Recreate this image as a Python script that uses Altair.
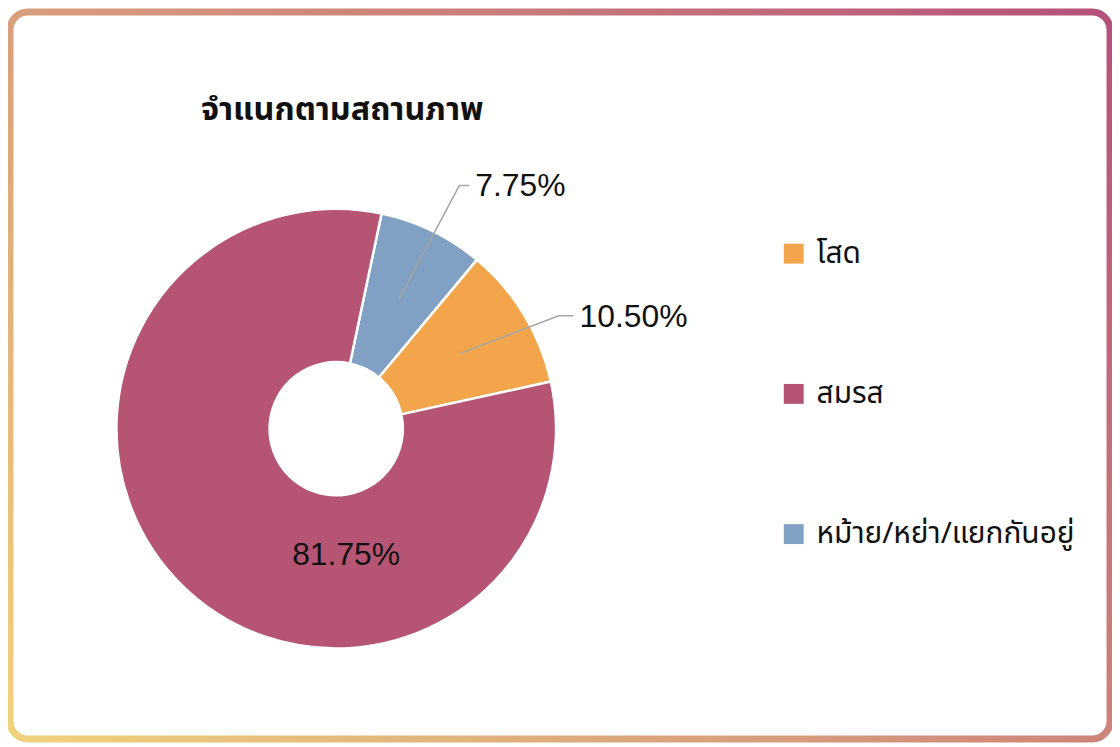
import math
import altair as alt
import pandas as pd

# ---------------- data ----------------
categories = ["โสด", "สมรส", "หม้าย/หย่า/แยกกันอยู่"]
percentages = [10.50, 81.75, 7.75]
colors = ["#F2A54A", "#B55573", "#80A0C4"]
title_text = "จำแนกตามสถานภาพ"

# ---------------- layout ----------------
W, H = 1110, 735
CX, CY = 330, 421
R_OUT, R_IN = 221, 67
START = math.radians(11.9)
FONT = "Liberation Sans, Arial, sans-serif"
THAI_FONT = "Noto Sans Thai, Tahoma, sans-serif"

stack_order = {"หม้าย/หย่า/แยกกันอยู่": 0, "โสด": 1, "สมรส": 2}
label_layout = {
    "หม้าย/หย่า/แยกกันอยู่": dict(kind="out", elbow_da=1.0, elbow_r=1.24, seg=10),
    "โสด": dict(kind="out", elbow_da=4.4, elbow_r=1.135, seg=15),
    "สมรส": dict(kind="in", angle=175.5, r=0.575),
}

df = pd.DataFrame({"category": categories, "value": percentages})
df["order"] = df["category"].map(stack_order)
df["label"] = df["value"].map(lambda v: f"{v:.2f}%")
df = df.sort_values("order").reset_index(drop=True)
cum = df["value"].cumsum() - df["value"]
df["mid"] = START + 2 * math.pi * (cum + df["value"] / 2) / 100


def unit(a, r):
    return r * math.sin(a), r * math.cos(a)


line_rows, out_rows, in_rows = [], [], []
for _, row in df.iterrows():
    lay = label_layout[row["category"]]
    if lay["kind"] == "out":
        sx, sy = unit(row["mid"], 0.66)
        ex, ey = unit(row["mid"] + math.radians(lay["elbow_da"]), lay["elbow_r"])
        fx, fy = ex + lay["seg"] / R_OUT, ey
        for i, (px, py) in enumerate([(sx, sy), (ex, ey), (fx, fy)]):
            line_rows.append({"category": row["category"], "seq": i, "ux": px, "uy": py})
        out_rows.append({"label": row["label"], "ux": fx, "uy": fy})
    else:
        ix, iy = unit(math.radians(lay["angle"]), lay["r"])
        in_rows.append({"label": row["label"], "ux": ix, "uy": iy})

lines_df = pd.DataFrame(line_rows)
out_df = pd.DataFrame(out_rows)
in_df = pd.DataFrame(in_rows)

xscale = alt.Scale(domain=[-1, 1], range=[CX - R_OUT, CX + R_OUT])
yscale = alt.Scale(domain=[-1, 1], range=[CY + R_OUT, CY - R_OUT])

# ---------------- border ----------------
B = 2
bw, bh = W - 2 * B, H - 2 * B
s = (bw + bh) / (bw ** 2 + bh ** 2)
gx1, gy1 = 0.5 - s * bw / 2, 0.5 + s * bh / 2
gx2, gy2 = 0.5 + s * bw / 2, 0.5 - s * bh / 2
border_grad = alt.LinearGradient(
    gradient="linear",
    stops=[alt.GradientStop(color="#F0D27C", offset=0),
           alt.GradientStop(color="#B5507A", offset=1)],
    x1=gx1, y1=gy1, x2=gx2, y2=gy2,
)
border = alt.Chart(pd.DataFrame({"d": [0]})).mark_rect(
    fill="white", stroke=border_grad, strokeWidth=7, cornerRadius=18
).encode(x=alt.value(B), x2=alt.value(W - B), y=alt.value(B), y2=alt.value(H - B))

title = alt.Chart(pd.DataFrame({"t": [title_text]})).mark_text(
    align="left", baseline="middle", fontSize=32.5, fontWeight="bold",
    font=THAI_FONT, color="#111111"
).encode(x=alt.value(194), y=alt.value(101), text="t:N")

pie = alt.Chart(df).mark_arc(
    outerRadius=R_OUT, innerRadius=R_IN, stroke="white", strokeWidth=2.5
).encode(
    theta=alt.Theta("value:Q", stack=True,
                    scale=alt.Scale(range=[START, START + 2 * math.pi])),
    order=alt.Order("order:Q"),
    color=alt.Color(
        "category:N",
        scale=alt.Scale(domain=categories, range=colors),
        legend=alt.Legend(
            orient="none", legendX=775, legendY=230, title=None,
            symbolType="square", symbolSize=400, symbolStrokeWidth=0,
            symbolOpacity=1, labelFontSize=30, labelFont=THAI_FONT,
            labelColor="#111111", rowPadding=111, labelOffset=8, padding=0,
            labelLimit=400,
        ),
    ),
    x=alt.value(CX), y=alt.value(CY),
)

leaders = alt.Chart(lines_df).mark_line(color="#A6A6A6", strokeWidth=1.5).encode(
    x=alt.X("ux:Q", scale=xscale, axis=None),
    y=alt.Y("uy:Q", scale=yscale, axis=None),
    detail="category:N",
    order="seq:Q",
)

out_labels = alt.Chart(out_df).mark_text(
    align="left", baseline="middle", dx=6, dy=1, fontSize=32, font=FONT, color="#111111"
).encode(
    x=alt.X("ux:Q", scale=xscale, axis=None),
    y=alt.Y("uy:Q", scale=yscale, axis=None),
    text="label:N",
)

in_labels = alt.Chart(in_df).mark_text(
    align="center", baseline="middle", fontSize=32, font=FONT, color="#111111"
).encode(
    x=alt.X("ux:Q", scale=xscale, axis=None),
    y=alt.Y("uy:Q", scale=yscale, axis=None),
    text="label:N",
)

chart = alt.layer(border, title, pie, leaders, out_labels, in_labels).properties(
    width=W, height=H, padding=0, autosize=alt.AutoSizeParams(type="none"),
    background="white",
).configure_view(stroke=None)

chart.save("out.html", embed_options={"renderer": "svg", "actions": False})
